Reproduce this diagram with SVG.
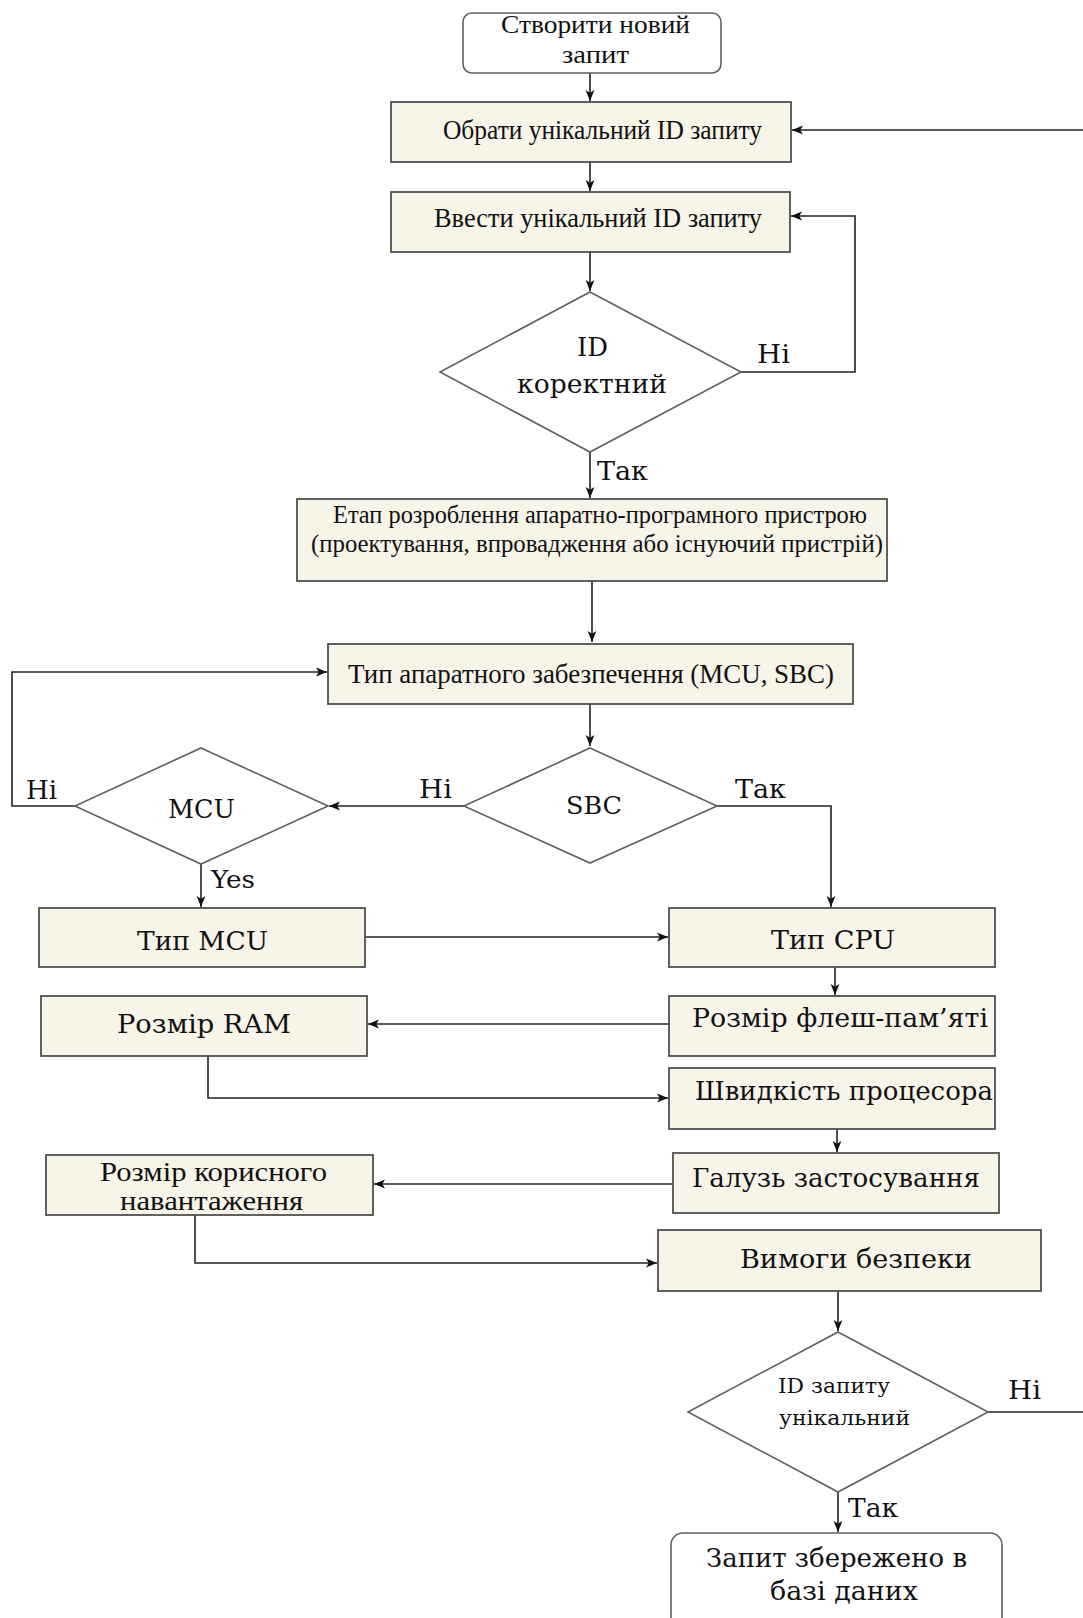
<svg xmlns="http://www.w3.org/2000/svg" width="1083" height="1618" viewBox="0 0 1083 1618">
  <style>
    .box { fill: #F7F4E8; stroke: #505050; stroke-width: 1.8; }
    .term { fill: #FFFFFF; stroke: #606060; stroke-width: 1.6; }
    .dec { fill: #FFFFFF; stroke: #606060; stroke-width: 1.6; }
    .edge { fill: none; stroke: #222222; stroke-width: 1.6; }
    .tr { font-family: "Liberation Serif", "Times New Roman", serif; fill: #111111; }
    .cb { font-family: "DejaVu Serif", "Liberation Serif", serif; fill: #111111; }
  </style>
  <defs>
    <marker id="arrow" viewBox="0 0 10 10" refX="10" refY="5" markerWidth="11" markerHeight="11" markerUnits="userSpaceOnUse" orient="auto">
      <path d="M0,1 L10,5 L0,9 L2.5,5 Z" fill="#111111"/>
    </marker>
  </defs>
  <rect width="1083" height="1618" fill="#FFFFFF"/>

  <!-- connectors -->
  <g id="connectors" class="edge" marker-end="url(#arrow)">
    <path d="M590,73 V101"/>
    <path d="M590,162 V191"/>
    <path d="M1083,130 H792"/>
    <path d="M590,252 V291"/>
    <path d="M741,372 H855 V216 H791"/>
    <path d="M590,452 V498"/>
    <path d="M592,581 V642"/>
    <path d="M590,704 V746"/>
    <path d="M464,806 H329"/>
    <path d="M75,806 H12 V672 H327"/>
    <path d="M717,806 H831 V907"/>
    <path d="M201,864 V907"/>
    <path d="M365,937 H668"/>
    <path d="M835,967 V995"/>
    <path d="M669,1024 H368"/>
    <path d="M208,1056 V1098 H668"/>
    <path d="M837,1129 V1152"/>
    <path d="M673,1184 H374"/>
    <path d="M195,1215 V1263 H657"/>
    <path d="M838,1291 V1331"/>
    <path d="M988,1412 H1083" marker-end="none"/>
    <path d="M838,1492 V1532"/>
  </g>

  <!-- start -->
  <g id="start">
    <rect class="term" x="463" y="13" width="258" height="60" rx="9"/>
    <text class="tr" x="501" y="33" font-size="26" textLength="189" lengthAdjust="spacingAndGlyphs">Створити новий</text>
    <text class="tr" x="562" y="63" font-size="26" textLength="67" lengthAdjust="spacingAndGlyphs">запит</text>
  </g>

  <g id="choose-id">
    <rect class="box" x="391" y="102" width="400" height="60"/>
    <text class="tr" x="443" y="139" font-size="27" textLength="319" lengthAdjust="spacingAndGlyphs">Обрати унікальний ID запиту</text>
  </g>

  <g id="enter-id">
    <rect class="box" x="391" y="192" width="399" height="60"/>
    <text class="tr" x="434" y="227" font-size="27" textLength="328" lengthAdjust="spacingAndGlyphs">Ввести унікальний ID запиту</text>
  </g>

  <g id="id-valid">
    <polygon class="dec" points="590,292 741,372 590,452 440,372"/>
    <text class="cb" x="577" y="356" font-size="26" textLength="31" lengthAdjust="spacingAndGlyphs">ID</text>
    <text class="cb" x="517" y="393" font-size="26" textLength="150" lengthAdjust="spacingAndGlyphs">коректний</text>
    <text class="cb" x="757" y="363" font-size="26" textLength="33" lengthAdjust="spacingAndGlyphs">Ні</text>
    <text class="cb" x="597" y="480" font-size="26" textLength="51" lengthAdjust="spacingAndGlyphs">Так</text>
  </g>

  <g id="stage">
    <rect class="box" x="297" y="499" width="590" height="82"/>
    <text class="tr" x="333" y="523" font-size="25" textLength="534" lengthAdjust="spacingAndGlyphs">Етап розроблення апаратно-програмного  пристрою</text>
    <text class="tr" x="311" y="552" font-size="25" textLength="572" lengthAdjust="spacingAndGlyphs">(проектування,  впровадження або існуючий  пристрій)</text>
  </g>

  <g id="hw-type">
    <rect class="box" x="328" y="644" width="525" height="60"/>
    <text class="tr" x="348" y="683" font-size="28" textLength="486" lengthAdjust="spacingAndGlyphs">Тип апаратного забезпечення (MCU, SBC)</text>
  </g>

  <g id="is-sbc">
    <polygon class="dec" points="590,748 717,806 590,863 464,806"/>
    <text class="cb" x="566" y="814" font-size="25" textLength="56" lengthAdjust="spacingAndGlyphs">SBC</text>
    <text class="cb" x="419" y="798" font-size="26" textLength="33" lengthAdjust="spacingAndGlyphs">Ні</text>
    <text class="cb" x="735" y="798" font-size="26" textLength="51" lengthAdjust="spacingAndGlyphs">Так</text>
  </g>

  <g id="is-mcu">
    <polygon class="dec" points="201,748 328,806 201,864 75,806"/>
    <text class="cb" x="168" y="818" font-size="26" textLength="67" lengthAdjust="spacingAndGlyphs">MCU</text>
    <text class="cb" x="26" y="799" font-size="26" textLength="31" lengthAdjust="spacingAndGlyphs">Ні</text>
    <text class="cb" x="211" y="888" font-size="25" textLength="44" lengthAdjust="spacingAndGlyphs">Yes</text>
  </g>

  <g id="mcu-type">
    <rect class="box" x="39" y="908" width="326" height="59"/>
    <text class="cb" x="137" y="950" font-size="26" textLength="131" lengthAdjust="spacingAndGlyphs">Тип MCU</text>
  </g>

  <g id="cpu-type">
    <rect class="box" x="669" y="908" width="326" height="59"/>
    <text class="cb" x="771" y="949" font-size="26" textLength="124" lengthAdjust="spacingAndGlyphs">Тип CPU</text>
  </g>

  <g id="ram-size">
    <rect class="box" x="41" y="996" width="326" height="60"/>
    <text class="cb" x="117" y="1033" font-size="26" textLength="174" lengthAdjust="spacingAndGlyphs">Розмір RAM</text>
  </g>

  <g id="flash-size">
    <rect class="box" x="669" y="996" width="326" height="60"/>
    <text class="cb" x="692" y="1027" font-size="26" textLength="296" lengthAdjust="spacingAndGlyphs">Розмір флеш-пам’яті</text>
  </g>

  <g id="cpu-speed">
    <rect class="box" x="669" y="1068" width="326" height="61"/>
    <text class="cb" x="695" y="1100" font-size="26" textLength="298" lengthAdjust="spacingAndGlyphs">Швидкість процесора</text>
  </g>

  <g id="application">
    <rect class="box" x="673" y="1153" width="326" height="60"/>
    <text class="cb" x="692" y="1187" font-size="26" textLength="288" lengthAdjust="spacingAndGlyphs">Галузь застосування</text>
  </g>

  <g id="payload-size">
    <rect class="box" x="46" y="1155" width="327" height="60"/>
    <text class="tr" x="100" y="1181" font-size="28" textLength="227" lengthAdjust="spacingAndGlyphs">Розмір корисного</text>
    <text class="tr" x="120" y="1210" font-size="28" textLength="183" lengthAdjust="spacingAndGlyphs">навантаження</text>
  </g>

  <g id="security">
    <rect class="box" x="658" y="1230" width="383" height="61"/>
    <text class="cb" x="740" y="1268" font-size="26" textLength="232" lengthAdjust="spacingAndGlyphs">Вимоги безпеки</text>
  </g>

  <g id="id-unique">
    <polygon class="dec" points="838,1332 988,1412 838,1492 688,1412"/>
    <text class="cb" x="778" y="1393" font-size="21" textLength="112" lengthAdjust="spacingAndGlyphs">ID запиту</text>
    <text class="cb" x="779" y="1425" font-size="21" textLength="131" lengthAdjust="spacingAndGlyphs">унікальний</text>
    <text class="cb" x="1008" y="1399" font-size="26" textLength="33" lengthAdjust="spacingAndGlyphs">Ні</text>
    <text class="cb" x="848" y="1517" font-size="26" textLength="50" lengthAdjust="spacingAndGlyphs">Так</text>
  </g>

  <g id="saved">
    <rect class="term" x="671" y="1533" width="331" height="110" rx="12"/>
    <text class="cb" x="706" y="1567" font-size="26" textLength="261" lengthAdjust="spacingAndGlyphs">Запит збережено в</text>
    <text class="cb" x="770" y="1600" font-size="26" textLength="148" lengthAdjust="spacingAndGlyphs">базі даних</text>
  </g>
</svg>
